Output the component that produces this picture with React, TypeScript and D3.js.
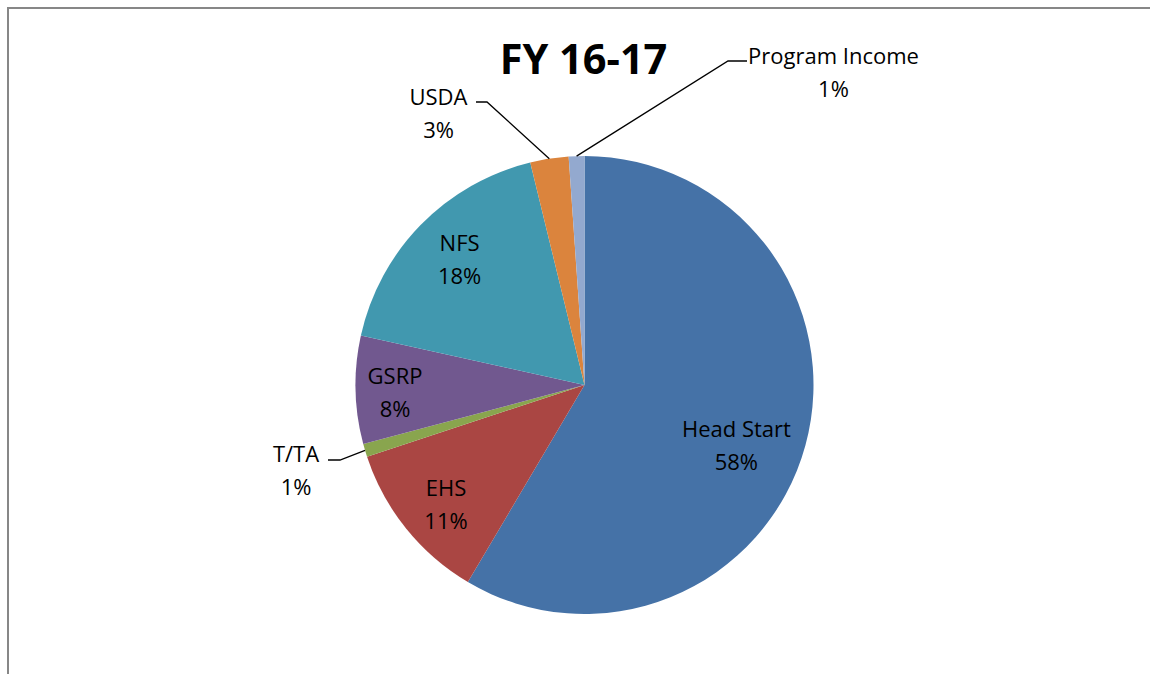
import * as d3 from 'd3';

const W = 1150;
const H = 674;

const categories = ['Head Start', 'EHS', 'T/TA', 'GSRP', 'NFS', 'USDA', 'Program Income'];
const shares = [58.4, 11.4, 0.92, 7.6, 17.7, 2.7, 1.1];
const pctLabels = ['58%', '11%', '1%', '8%', '18%', '3%', '1%'];
const colors = ['#4572A7', '#AA4643', '#89A54E', '#71588F', '#4198AF', '#DB843D', '#93A9CF'];

const CX = 584.5;
const CY = 385;
const R = 229;
const LABEL_R = 172;
const FONT = '"Open Sans", "Liberation Sans", sans-serif';

// labels that sit inside their slice: nudge from the centroid at LABEL_R
const insideNudge: Record<string, [number, number]> = {
  'Head Start': [-14, 16],
  EHS: [-4.5, 12],
  GSRP: [-17.5, 4],
  NFS: [-2, -5],
};

// labels with leader lines, offsets relative to the pie centre
const callouts: Record<string, { elbow: [number, number]; hook: number; text: [number, number] }> = {
  'T/TA': { elbow: [-244.5, 75], hook: -12, text: [-288.5, 86] },
  USDA: { elbow: [-97.5, -283], hook: -11, text: [-146, -271] },
  'Program Income': { elbow: [143.5, -324], hook: 19, text: [249, -312] },
};

function TwoLine({ x, y, a, b }: { x: number; y: number; a: string; b: string }) {
  return (
    <text x={x} textAnchor="middle" fontFamily={FONT} fontSize={22} fill="#000">
      <tspan x={x} y={y - 9}>{a}</tspan>
      <tspan x={x} y={y + 24}>{b}</tspan>
    </text>
  );
}

export default function App() {
  const rows = categories.map((name, i) => ({ name, value: shares[i], pct: pctLabels[i], color: colors[i] }));
  const arcs = d3.pie<any>().sort(null).value((d) => d.value)(rows);
  const arc = d3.arc<any>().innerRadius(0).outerRadius(R);
  const labelArc = d3.arc<any>().innerRadius(LABEL_R).outerRadius(LABEL_R);
  const edgeArc = d3.arc<any>().innerRadius(R).outerRadius(R);

  return (
    <div style={{ position: 'absolute', left: 0, top: 0 }}>
      <svg width={W} height={H} style={{ display: 'block' }}>
        <rect x={0} y={0} width={W} height={H} fill="#fff" />
        <rect x={8} y={8} width={W * 2} height={H * 2} fill="none" stroke="#878787" strokeWidth={2} />
        <text x={583.5} y={74} textAnchor="middle" fontFamily={FONT} fontWeight="bold" fontSize={41.5} fill="#000">
          FY 16-17
        </text>
        <g transform={`translate(${CX},${CY})`}>
          {arcs.map((a) => (
            <path key={a.data.name} d={arc(a) ?? ''} fill={a.data.color} />
          ))}
          {arcs.map((a) => {
            const name = a.data.name;
            if (insideNudge[name]) {
              const [x, y] = labelArc.centroid(a);
              const [nx, ny] = insideNudge[name];
              return <TwoLine key={name} x={x + nx} y={y + ny} a={name} b={a.data.pct} />;
            }
            const c = callouts[name];
            const [sx, sy] = edgeArc.centroid(a);
            const [ex, ey] = c.elbow;
            const line = d3.line()([
              [sx, sy],
              [ex, ey],
              [ex + c.hook, ey],
            ]);
            return (
              <g key={name}>
                <path d={line ?? ''} fill="none" stroke="#000" strokeWidth={1.3} />
                <TwoLine x={c.text[0]} y={c.text[1]} a={name} b={a.data.pct} />
              </g>
            );
          })}
        </g>
      </svg>
    </div>
  );
}
